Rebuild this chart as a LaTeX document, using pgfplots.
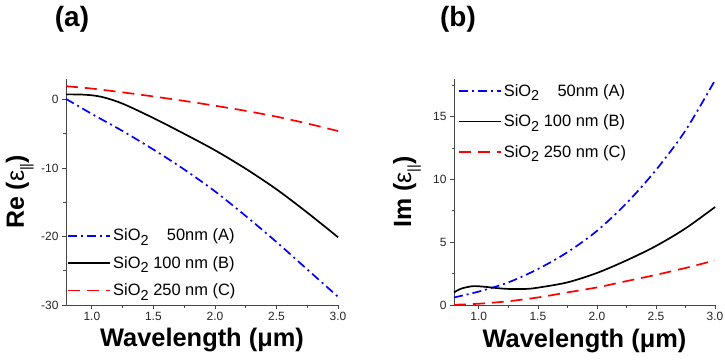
\documentclass[border=0pt]{standalone}
\usepackage{pgfplots}
\pgfplotsset{compat=1.18}
\usepackage{fontspec}
\usepackage{calc}
\setmainfont{Liberation Sans}
\newcommand\sub[1]{\raisebox{-0.5ex}{\fontsize{14.5}{14.5}\selectfont #1}}
\definecolor{axgray}{RGB}{70,70,70}
\pgfplotsset{
  myaxis/.style={
    scale only axis,
    axis lines*=left,
    axis line style={axgray, line width=0.8pt, -},
    tick style={axgray, line width=0.7pt},
    tick align=outside,
    major tick length=4bp,
    minor tick length=2.5bp,
    xmin=0.79, xmax=3.0,
    xtick={1.0,1.5,2.0,2.5,3.0},
    minor xtick={1.25,1.75,2.25,2.75},
    xticklabel style={/pgf/number format/.cd, fixed, fixed zerofill, precision=1},
    /pgf/number format/assume math mode=true,
    tick label style={font=\fontsize{12}{14}\selectfont, text=black!85},
    clip=false,
    legend cell align=left,
    legend style={draw=none, fill=none, font=\fontsize{16.5}{19}\selectfont, inner sep=0pt},
  },
}
\begin{document}
\begin{tikzpicture}
\useasboundingbox (0bp,0bp) rectangle (725bp,364bp);
\node[font=\fontsize{28}{30}\selectfont\bfseries] at (72bp,345bp) {(a)};
\node[font=\fontsize{28}{30}\selectfont\bfseries] at (458bp,345bp) {(b)};
\begin{scope}[shift={(66bp,59bp)}]
\begin{axis}[myaxis,
  width=272bp, height=226bp,
  ymin=-30, ymax=3,
  ytick={0,-10,-20,-30}, minor ytick={-5,-15,-25},
  legend image code/.code={\draw[#1] (0bp,0bp) -- (42bp,0bp);},
  legend style={at={(axis description cs:0.005,0.025)}, anchor=south west, row sep=10pt},
]
\addplot[color=blue, line width=1.7pt, dash pattern=on 9pt off 4pt on 2pt off 4pt, smooth] coordinates {(0.79,0.1) (1.0,-2.1) (1.25,-4.6) (1.5,-7.3) (1.75,-10.2) (2.0,-13.4) (2.25,-17.0) (2.5,-20.8) (2.75,-24.8) (3.0,-28.8)};
\addlegendentry{SiO\sub{2} \makebox[\widthof{100 nm (B)}][r]{50nm (A)}}
\addplot[color=black, line width=1.7pt, smooth] coordinates {(0.79,0.75) (0.9,0.74) (1.0,0.62) (1.1,0.3) (1.25,-0.6) (1.5,-2.7) (1.75,-5.0) (2.0,-7.4) (2.25,-10.1) (2.5,-13.1) (2.75,-16.5) (3.0,-20.1)};
\addlegendentry{SiO\sub{2} 100 nm (B)}
\addplot[color=red, line width=1.7pt, dash pattern=on 12pt off 7pt, smooth] coordinates {(0.79,1.95) (1.0,1.6) (1.25,1.05) (1.5,0.45) (1.75,-0.2) (2.0,-0.9) (2.25,-1.65) (2.5,-2.5) (2.75,-3.5) (3.0,-4.6)};
\addlegendentry{SiO\sub{2} 250 nm (C)}
\node[font=\fontsize{25}{28}\selectfont\bfseries, rotate=90] at (axis description cs:-0.17,0.5) {Re (\mdseries ε\sub{||}\bfseries)};
\node[font=\fontsize{25.5}{28}\selectfont\bfseries] at (axis description cs:0.5,-0.155) {Wavelength (μm)};
\end{axis}
\end{scope}
\begin{scope}[shift={(454bp,59bp)}]
\begin{axis}[myaxis,
  width=261bp, height=226bp,
  ymin=0, ymax=18,
  ytick={0,5,10,15}, minor ytick={2.5,7.5,12.5,17.5},
  legend image code/.code={\draw[#1] (0bp,0bp) -- (42bp,0bp);},
  legend style={at={(axis description cs:0.015,0.985)}, anchor=north west, row sep=13pt},
]
\addplot[color=blue, line width=1.7pt, dash pattern=on 9pt off 4pt on 2pt off 4pt, smooth] coordinates {(0.79,0.6) (1.0,1.07) (1.25,1.8) (1.5,2.86) (1.75,4.2) (2.0,5.9) (2.25,8.1) (2.5,10.75) (2.75,13.9) (3.0,17.9)};
\addlegendentry{SiO\sub{2} \makebox[\widthof{100 nm (B)}][r]{50nm (A)}}
\addplot[color=black, line width=1.7pt, smooth] coordinates {(0.79,1.0) (0.85,1.3) (0.95,1.5) (1.05,1.45) (1.15,1.35) (1.25,1.28) (1.4,1.28) (1.5,1.38) (1.75,1.8) (2.0,2.55) (2.25,3.55) (2.5,4.7) (2.75,6.1) (3.0,7.8)};
\addlegendentry{SiO\sub{2} 100 nm (B)}
\addplot[color=red, line width=1.7pt, dash pattern=on 12pt off 7pt, smooth] coordinates {(0.79,0.02) (1.0,0.1) (1.25,0.3) (1.5,0.6) (1.75,1.0) (2.0,1.4) (2.25,1.9) (2.5,2.4) (2.75,2.95) (3.0,3.55)};
\addlegendentry{SiO\sub{2} 250 nm (C)}
\node[font=\fontsize{25}{28}\selectfont\bfseries, rotate=90] at (axis description cs:-0.18,0.5) {Im (\mdseries ε\sub{||}\bfseries)};
\node[font=\fontsize{25.5}{28}\selectfont\bfseries] at (axis description cs:0.5,-0.16) {Wavelength (μm)};
\end{axis}
\end{scope}
\end{tikzpicture}
\end{document}
